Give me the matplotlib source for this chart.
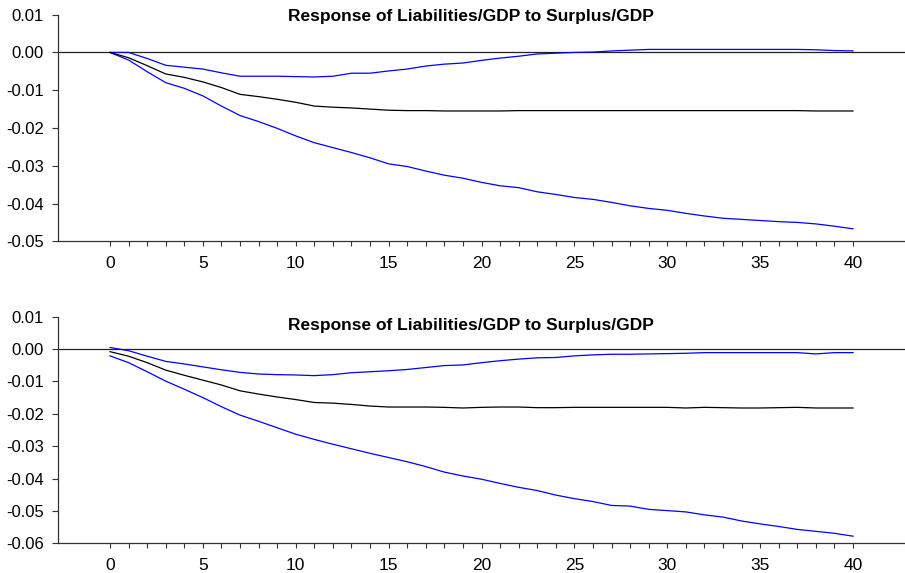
import matplotlib
matplotlib.use("Agg")
import matplotlib.pyplot as plt
from matplotlib.ticker import FixedLocator, FormatStrFormatter

plt.rcParams['font.family'] = ['Liberation Sans', 'DejaVu Sans']
plt.rcParams['axes.unicode_minus'] = False

periods = list(range(41))
title = "Response of Liabilities/GDP to Surplus/GDP"

# top panel: response with +/- 2 s.e. bands
top_resp = [0.0, -0.0014, -0.0035, -0.0057, -0.0066, -0.0078, -0.0093, -0.0111, -0.0117, -0.0124,
            -0.0132, -0.0142, -0.0145, -0.0147, -0.0150, -0.0153, -0.0154, -0.0154, -0.0155, -0.0155,
            -0.0155, -0.0155, -0.0154, -0.0154, -0.0154, -0.0154, -0.0154, -0.0154, -0.0154, -0.0154,
            -0.0154, -0.0154, -0.0154, -0.0154, -0.0154, -0.0154, -0.0154, -0.0154, -0.0155, -0.0155,
            -0.0155]
top_upper = [0.0, 0.0, -0.0016, -0.0034, -0.0039, -0.0044, -0.0054, -0.0063, -0.0063, -0.0063,
             -0.0064, -0.0065, -0.0063, -0.0055, -0.0055, -0.0049, -0.0044, -0.0036, -0.0031, -0.0028,
             -0.0021, -0.0015, -0.0010, -0.0004, -0.0002, 0.0, 0.0001, 0.0004, 0.0006, 0.0008,
             0.0008, 0.0008, 0.0008, 0.0008, 0.0008, 0.0008, 0.0008, 0.0008, 0.0007, 0.0005,
             0.0004]
top_lower = [0.0, -0.0020, -0.0051, -0.0080, -0.0095, -0.0115, -0.0142, -0.0167, -0.0183, -0.0201,
             -0.0221, -0.0239, -0.0252, -0.0265, -0.0279, -0.0295, -0.0302, -0.0314, -0.0325, -0.0333,
             -0.0344, -0.0353, -0.0358, -0.0369, -0.0376, -0.0384, -0.0389, -0.0397, -0.0406, -0.0413,
             -0.0418, -0.0426, -0.0433, -0.0439, -0.0442, -0.0445, -0.0448, -0.0450, -0.0454, -0.0460,
             -0.0467]

# bottom panel
bot_resp = [-0.0008, -0.0022, -0.0042, -0.0065, -0.0081, -0.0096, -0.0111, -0.0129, -0.0139, -0.0148,
            -0.0156, -0.0165, -0.0167, -0.0171, -0.0176, -0.0179, -0.0179, -0.0179, -0.0180, -0.0182,
            -0.0180, -0.0179, -0.0179, -0.0181, -0.0181, -0.0180, -0.0180, -0.0180, -0.0180, -0.0180,
            -0.0180, -0.0182, -0.0180, -0.0181, -0.0182, -0.0182, -0.0181, -0.0180, -0.0182, -0.0182,
            -0.0182]
bot_upper = [0.0005, -0.0005, -0.0022, -0.0038, -0.0046, -0.0055, -0.0064, -0.0072, -0.0077, -0.0079,
             -0.0080, -0.0082, -0.0079, -0.0073, -0.0070, -0.0067, -0.0063, -0.0057, -0.0051, -0.0049,
             -0.0042, -0.0036, -0.0031, -0.0027, -0.0026, -0.0021, -0.0018, -0.0016, -0.0016, -0.0015,
             -0.0014, -0.0013, -0.0011, -0.0011, -0.0011, -0.0011, -0.0011, -0.0011, -0.0015, -0.0011,
             -0.0011]
bot_lower = [-0.0021, -0.0042, -0.0070, -0.0099, -0.0124, -0.0150, -0.0178, -0.0204, -0.0223, -0.0243,
             -0.0263, -0.0279, -0.0294, -0.0308, -0.0322, -0.0335, -0.0348, -0.0363, -0.0380, -0.0392,
             -0.0402, -0.0415, -0.0427, -0.0437, -0.0451, -0.0462, -0.0471, -0.0483, -0.0485, -0.0495,
             -0.0499, -0.0503, -0.0512, -0.0519, -0.0531, -0.0540, -0.0548, -0.0557, -0.0563, -0.0569,
             -0.0578]

top_yticks = [0.01, 0.0, -0.01, -0.02, -0.03, -0.04, -0.05]
bot_yticks = [0.01, 0.0, -0.01, -0.02, -0.03, -0.04, -0.05, -0.06]
xticks = [0, 5, 10, 15, 20, 25, 30, 35, 40]

fig = plt.figure(figsize=(9.05, 5.73), dpi=100)
ax1 = fig.add_axes([0.0641, 0.5789, 0.9359, 0.3955])
ax2 = fig.add_axes([0.0641, 0.0518, 0.9359, 0.3955])


def draw_panel(ax, resp, upper, lower, yticks, title_y):
    ax.axhline(0, color="#222222", lw=0.9, zorder=1)
    ax.plot(periods, upper, color="#0000ff", lw=0.9)
    ax.plot(periods, lower, color="#0000ff", lw=0.9)
    ax.plot(periods, resp, color="black", lw=0.9)

    ax.set_xlim(-2.8, 42.8)
    ax.set_ylim(min(yticks), max(yticks))
    ax.set_yticks(yticks)
    ax.yaxis.set_major_formatter(FormatStrFormatter("%.2f"))
    ax.set_xticks(xticks)
    ax.xaxis.set_minor_locator(FixedLocator(periods))

    for side in ["top", "right"]:
        ax.spines[side].set_visible(False)
    for side in ["left", "bottom"]:
        ax.spines[side].set_linewidth(0.9)
        ax.spines[side].set_color("#333333")

    ax.tick_params(axis="y", direction="out", length=4.5, width=0.8, pad=5.5,
                   labelsize=12, color="#333333")
    ax.tick_params(axis="x", which="both", direction="out", length=3.5, width=0.8,
                   pad=7, labelsize=12.5, color="#333333")

    ax.text(0.4876, title_y, title, transform=ax.transAxes, ha="center", va="center",
            fontsize=12.5, fontweight="bold")


draw_panel(ax1, top_resp, top_upper, top_lower, top_yticks, 0.993)
draw_panel(ax2, bot_resp, bot_upper, bot_lower, bot_yticks, 0.963)

fig.savefig("out.png", dpi=100)
